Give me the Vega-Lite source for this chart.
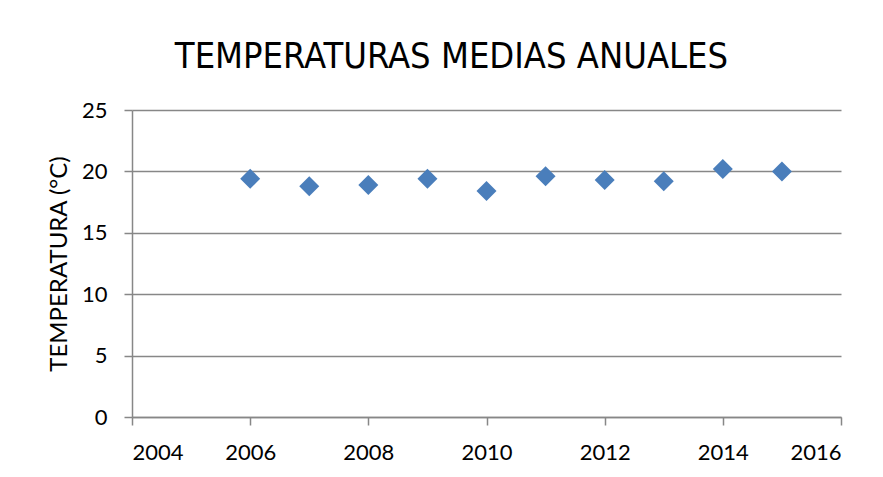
{
  "$schema": "https://vega.github.io/schema/vega-lite/v6.json",
  "autosize": {"type": "none"},
  "padding": {"left": 132, "top": 110, "right": 42, "bottom": 60},
  "width": 709,
  "height": 307,
  "background": "white",
  "title": {
    "text": "TEMPERATURAS MEDIAS ANUALES",
    "font": "DejaVu Sans Condensed",
    "fontSize": 36,
    "fontWeight": "normal",
    "color": "black",
    "anchor": "middle",
    "baseline": "alphabetic",
    "dx": -35,
    "dy": 46,
    "offset": 41
  },
  "data": {
    "values": [
      {"year": 2006, "temp": 19.4},
      {"year": 2007, "temp": 18.8},
      {"year": 2008, "temp": 18.9},
      {"year": 2009, "temp": 19.4},
      {"year": 2010, "temp": 18.4},
      {"year": 2011, "temp": 19.6},
      {"year": 2012, "temp": 19.3},
      {"year": 2013, "temp": 19.2},
      {"year": 2014, "temp": 20.2},
      {"year": 2015, "temp": 20.0}
    ]
  },
  "config": {
    "view": {"stroke": null},
    "axis": {
      "labelFont": "Lato",
      "labelFontSize": 22,
      "labelColor": "black",
      "titleFont": "Lato",
      "titleFontSize": 24,
      "titleFontWeight": "normal",
      "titleColor": "black",
      "domainColor": "#878787",
      "tickColor": "#878787",
      "gridColor": "#878787",
      "domainWidth": 1.5,
      "tickWidth": 1.5,
      "gridWidth": 1.5,
      "tickSize": 8
    }
  },
  "mark": {"type": "point", "shape": "diamond", "filled": true, "size": 400, "color": "#4A7EBB", "opacity": 1},
  "encoding": {
    "x": {
      "field": "year",
      "type": "quantitative",
      "scale": {"domain": [2004, 2016], "nice": false, "zero": false},
      "axis": {"values": [2004, 2006, 2008, 2010, 2012, 2014, 2016], "format": "d", "grid": false, "title": null, "labelPadding": 17}
    },
    "y": {
      "field": "temp",
      "type": "quantitative",
      "scale": {"domain": [0, 25], "nice": false},
      "axis": {"values": [0, 5, 10, 15, 20, 25], "grid": true, "title": "TEMPERATURA (°C)", "labelPadding": 17, "titlePadding": 10}
    }
  }
}
